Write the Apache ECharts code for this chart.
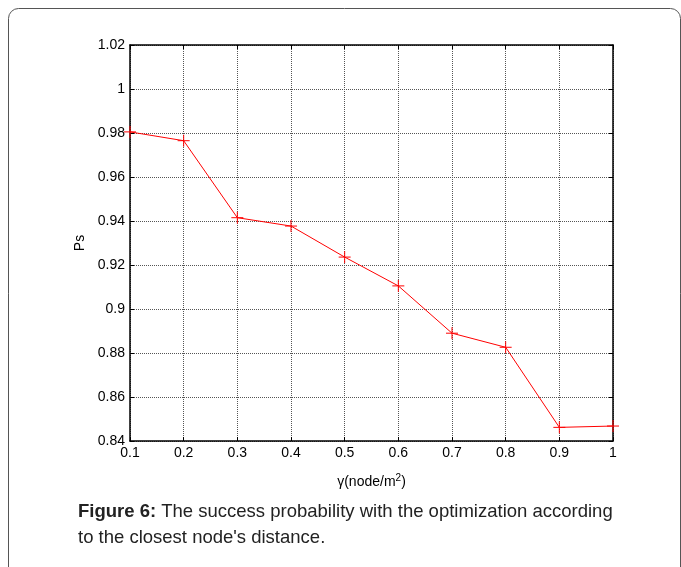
<!DOCTYPE html>
<html><head><meta charset="utf-8">
<script src="https://cdn.jsdelivr.net/npm/echarts@6/dist/echarts.min.js"></script>
<style>html,body{margin:0;padding:0;background:#fff}#c{width:681px;height:567px}</style>
</head><body><div id="c"></div>
<script>
var gammaValues = [0.1, 0.2, 0.3, 0.4, 0.5, 0.6, 0.7, 0.8, 0.9, 1.0];
var psValues = [0.9805, 0.9765, 0.9415, 0.9377, 0.9236, 0.9105, 0.8890, 0.8826, 0.8462, 0.8468];
var xTicks = {min: 0.1, max: 1, interval: 0.1};
var yTicks = {min: 0.84, max: 1.02, interval: 0.02};
var xAxisTitle = 'γ(node/m{sup|2})';
var yAxisTitle = 'Ps';
var captionBold = 'Figure 6:';
var captionLine1 = ' The success probability with the optimization according';
var captionLine2 = 'to the closest node\'s distance.';

var chart = echarts.init(document.getElementById('c'));
var font = 'Liberation Sans, Arial, sans-serif';
function fmt(v){ return String(parseFloat(v.toFixed(2))); }
var axisCommon = {
  axisLine: {show: true, onZero: false, lineStyle: {color: '#000', width: 1.5}},
  axisTick: {show: true, inside: true, length: 4, lineStyle: {color: '#000'}},
  splitLine: {show: false}
};
chart.setOption({
  animation: false,
  grid: {left: 130, top: 45, width: 483, height: 396, containLabel: false},
  xAxis: [
    Object.assign({}, axisCommon, {
      type: 'value', min: xTicks.min, max: xTicks.max, interval: xTicks.interval, position: 'bottom',
      axisLabel: {formatter: fmt, color: '#000', fontFamily: font, fontSize: 14, margin: 5},
      splitLine: {show: true, lineStyle: {color: '#555', type: [1, 1], width: 1}},
      name: xAxisTitle, nameLocation: 'middle', nameGap: 32,
      nameTextStyle: {color: '#000', fontFamily: font, fontSize: 14,
        rich: {sup: {fontSize: 10, verticalAlign: 'top', padding: [0,0,8,0], color: '#000', fontFamily: font}}}
    }),
    Object.assign({}, axisCommon, {
      type: 'value', min: xTicks.min, max: xTicks.max, interval: xTicks.interval, position: 'top',
      axisLabel: {show: false}
    })
  ],
  yAxis: [
    Object.assign({}, axisCommon, {
      type: 'value', min: yTicks.min, max: yTicks.max, interval: yTicks.interval, position: 'left',
      axisLabel: {formatter: fmt, color: '#000', fontFamily: font, fontSize: 14, margin: 5},
      splitLine: {show: true, lineStyle: {color: '#555', type: [1, 1], width: 1}},
      name: yAxisTitle, nameLocation: 'middle', nameGap: 42, nameRotate: 90,
      nameTextStyle: {color: '#000', fontFamily: font, fontSize: 14}
    }),
    Object.assign({}, axisCommon, {
      type: 'value', min: yTicks.min, max: yTicks.max, interval: yTicks.interval, position: 'right',
      axisLabel: {show: false}
    })
  ],
  series: [{
    type: 'line',
    data: gammaValues.map(function(g, i){ return [g, psValues[i]]; }),
    clip: false,
    lineStyle: {color: '#ff0000', width: 1},
    symbol: 'path://M0,5L10,5M5,0L5,10',
    symbolSize: 12,
    showSymbol: true,
    itemStyle: {color: 'none', borderColor: '#ff0000', borderWidth: 1}
  }],
  graphic: [
    {type: 'rect', shape: {x: 8.5, y: 8.5, width: 672, height: 600, r: 10},
     style: {fill: 'none', stroke: '#555', lineWidth: 1}, z: -1},
    {type: 'text', left: 78, top: 502,
     style: {text: '{b|' + captionBold + '}' + captionLine1, fontFamily: font, fontSize: 18.5, fill: '#222',
       rich: {b: {fontWeight: 'bold', fontFamily: font, fontSize: 18.5, fill: '#222'}}}},
    {type: 'text', left: 78, top: 528,
     style: {text: captionLine2, fontFamily: font, fontSize: 18.5, fill: '#222'}}
  ]
});
</script></body></html>
